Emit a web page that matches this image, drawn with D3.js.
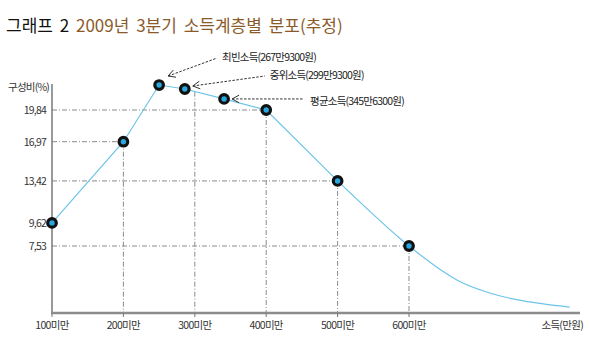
<!DOCTYPE html>
<html>
<head>
<meta charset="utf-8">
<script src="https://cdn.jsdelivr.net/npm/d3@7"></script>
<style>
  body { margin: 0; background: #fff; }
  text { font-family: "Noto Sans CJK KR", "Noto Sans", sans-serif; }
</style>
</head>
<body>
<svg id="chart" width="590" height="352"></svg>
<script>
// categories on the x axis (income, 만원)
var categories = ["100미만", "200미만", "300미만", "400미만", "500미만", "600미만"];
var categoryX = [100, 200, 300, 400, 500, 600];

// y tick values (구성비 %)
var yTicks = [19.84, 16.97, 13.42, 9.62, 7.53];

// curve through the points (x in 만원 positions, y in %)
var curveX = [100, 200, 250, 286, 341, 400, 500, 600, 667, 713, 760, 825];
var curveY = [9.62, 16.97, 22.1, 21.74, 20.84, 19.84, 13.42, 7.53, 4.46, 3.28, 2.56, 2.0];

// which curve points get a marker
var markerIdx = [0, 1, 2, 3, 4, 5, 6, 7];

// annotations
var noteLabels = ["최빈소득(267만9300원)", "중위소득(299만9300원)", "평균소득(345만6300원)"];
var noteIdx = [2, 3, 4];

var svg = d3.select("#chart");

var x = d3.scaleLinear().domain([100, 600]).range([52, 409]);
var y = d3.scaleLinear().domain([7.53, 19.84]).range([246, 110]);
var axisY = 313, axisTop = 84, axisRight = 580;

// title
var title = svg.append("text")
    .attr("x", 6).attr("y", 32)
    .style("font-size", "17px")
    .style("word-spacing", "3px");
title.append("tspan").attr("fill", "#111").text("그래프 2 ");
title.append("tspan").attr("fill", "#8b5a2b").text("2009년 3분기 소득계층별 분포(추정)");

var gridColor = "#8a8a8a";
var dash = "5,2,1,2";

// horizontal guide lines (to the point with that value)
var hGuides = [[16.97, 200], [19.84, 400], [13.42, 500], [7.53, 600]];
svg.append("g").selectAll("line")
    .data(hGuides).enter().append("line")
    .attr("x1", x(100)).attr("x2", function(d){ return x(d[1]); })
    .attr("y1", function(d){ return y(d[0]); }).attr("y2", function(d){ return y(d[0]); })
    .attr("stroke", gridColor).attr("stroke-width", 1)
    .attr("stroke-dasharray", dash);

// vertical guide lines
var vGuides = [[200, 16.97], [300, 21.5], [400, 19.84], [500, 13.42], [600, 7.53]];
svg.append("g").selectAll("line")
    .data(vGuides).enter().append("line")
    .attr("x1", function(d){ return x(d[0]); }).attr("x2", function(d){ return x(d[0]); })
    .attr("y1", function(d){ return y(d[1]); }).attr("y2", axisY)
    .attr("stroke", gridColor).attr("stroke-width", 1)
    .attr("stroke-dasharray", dash);

// axes
svg.append("line")
    .attr("x1", x(100)).attr("x2", x(100))
    .attr("y1", axisTop).attr("y2", axisY)
    .attr("stroke", "#777").attr("stroke-width", 1.5);
svg.append("line")
    .attr("x1", x(100) - 1).attr("x2", axisRight)
    .attr("y1", axisY).attr("y2", axisY)
    .attr("stroke", "#8c8c8c").attr("stroke-width", 2.5);

// x tick marks + labels
svg.append("g").selectAll("line")
    .data(categoryX).enter().append("line")
    .attr("x1", function(d){ return x(d); }).attr("x2", function(d){ return x(d); })
    .attr("y1", axisY).attr("y2", axisY + 4)
    .attr("stroke", "#777").attr("stroke-width", 1);

svg.append("g").selectAll("text")
    .data(categories).enter().append("text")
    .attr("x", function(d, i){ return x(categoryX[i]); })
    .attr("y", 329)
    .attr("text-anchor", "middle")
    .attr("fill", "#333")
    .style("font-size", "10.5px")
    .style("letter-spacing", "-0.7px")
    .text(function(d){ return d; });

svg.append("text")
    .attr("x", 583).attr("y", 329)
    .attr("text-anchor", "end")
    .attr("fill", "#333")
    .style("font-size", "10.5px")
    .style("letter-spacing", "-0.7px")
    .text("소득(만원)");

// y tick labels
svg.append("g").selectAll("text")
    .data(yTicks).enter().append("text")
    .attr("x", 46)
    .attr("y", function(d){ return y(d) + 4; })
    .attr("text-anchor", "end")
    .attr("fill", "#333")
    .style("font-size", "10.5px")
    .style("letter-spacing", "-0.8px")
    .text(function(d){ return d.toFixed(2).replace(".", ","); });

svg.append("text")
    .attr("x", 49).attr("y", 91)
    .attr("text-anchor", "end")
    .attr("fill", "#333")
    .style("font-size", "10.5px")
    .style("letter-spacing", "-0.8px")
    .text("구성비(%)");

// curve: straight segments up to 500, smooth tail after
var pts = curveX.map(function(d, i){ return [x(d), y(curveY[i])]; });
svg.append("path")
    .datum(pts.slice(0, 7))
    .attr("d", d3.line())
    .attr("fill", "none")
    .attr("stroke", "#6cc4e8")
    .attr("stroke-width", 1.2);
svg.append("path")
    .datum(pts.slice(6))
    .attr("d", d3.line().curve(d3.curveCatmullRom.alpha(0.5)))
    .attr("fill", "none")
    .attr("stroke", "#6cc4e8")
    .attr("stroke-width", 1.2);

// annotation arrows
var noteOffsets = [[9, -9, 58, -27, 63, -28], [8, -3, 80, -13, 85, -14], [8, 0, 80, 0, 86, 2]];
var arrowG = svg.append("g");
noteIdx.forEach(function(k, i){
    var p = pts[k], o = noteOffsets[i];
    var x0 = p[0] + o[0], y0 = p[1] + o[1];
    var x1 = p[0] + o[2], y1 = p[1] + o[3];
    arrowG.append("line")
        .attr("x1", x0).attr("y1", y0).attr("x2", x1).attr("y2", y1)
        .attr("stroke", "#333").attr("stroke-width", 1)
        .attr("stroke-dasharray", "2.5,1.5");
    var ang = Math.atan2(y1 - y0, x1 - x0);
    var h1 = [x0 + 8 * Math.cos(ang - 0.5), y0 + 8 * Math.sin(ang - 0.5)];
    var h2 = [x0 + 8 * Math.cos(ang + 0.5), y0 + 8 * Math.sin(ang + 0.5)];
    arrowG.append("path")
        .attr("d", "M" + h1 + "L" + x0 + "," + y0 + "L" + h2)
        .attr("fill", "none").attr("stroke", "#333").attr("stroke-width", 1);
    arrowG.append("text")
        .attr("x", p[0] + o[4]).attr("y", p[1] + o[5] + 4)
        .attr("fill", "#222")
        .style("font-size", "10.5px")
        .style("letter-spacing", "-0.8px")
        .text(noteLabels[i]);
});

// markers
svg.append("g").selectAll("circle")
    .data(markerIdx).enter().append("circle")
    .attr("cx", function(d){ return pts[d][0]; })
    .attr("cy", function(d){ return pts[d][1]; })
    .attr("r", 4.3)
    .attr("fill", "#29a8e0")
    .attr("stroke", "#111")
    .attr("stroke-width", 3.2);
</script>
</body>
</html>
